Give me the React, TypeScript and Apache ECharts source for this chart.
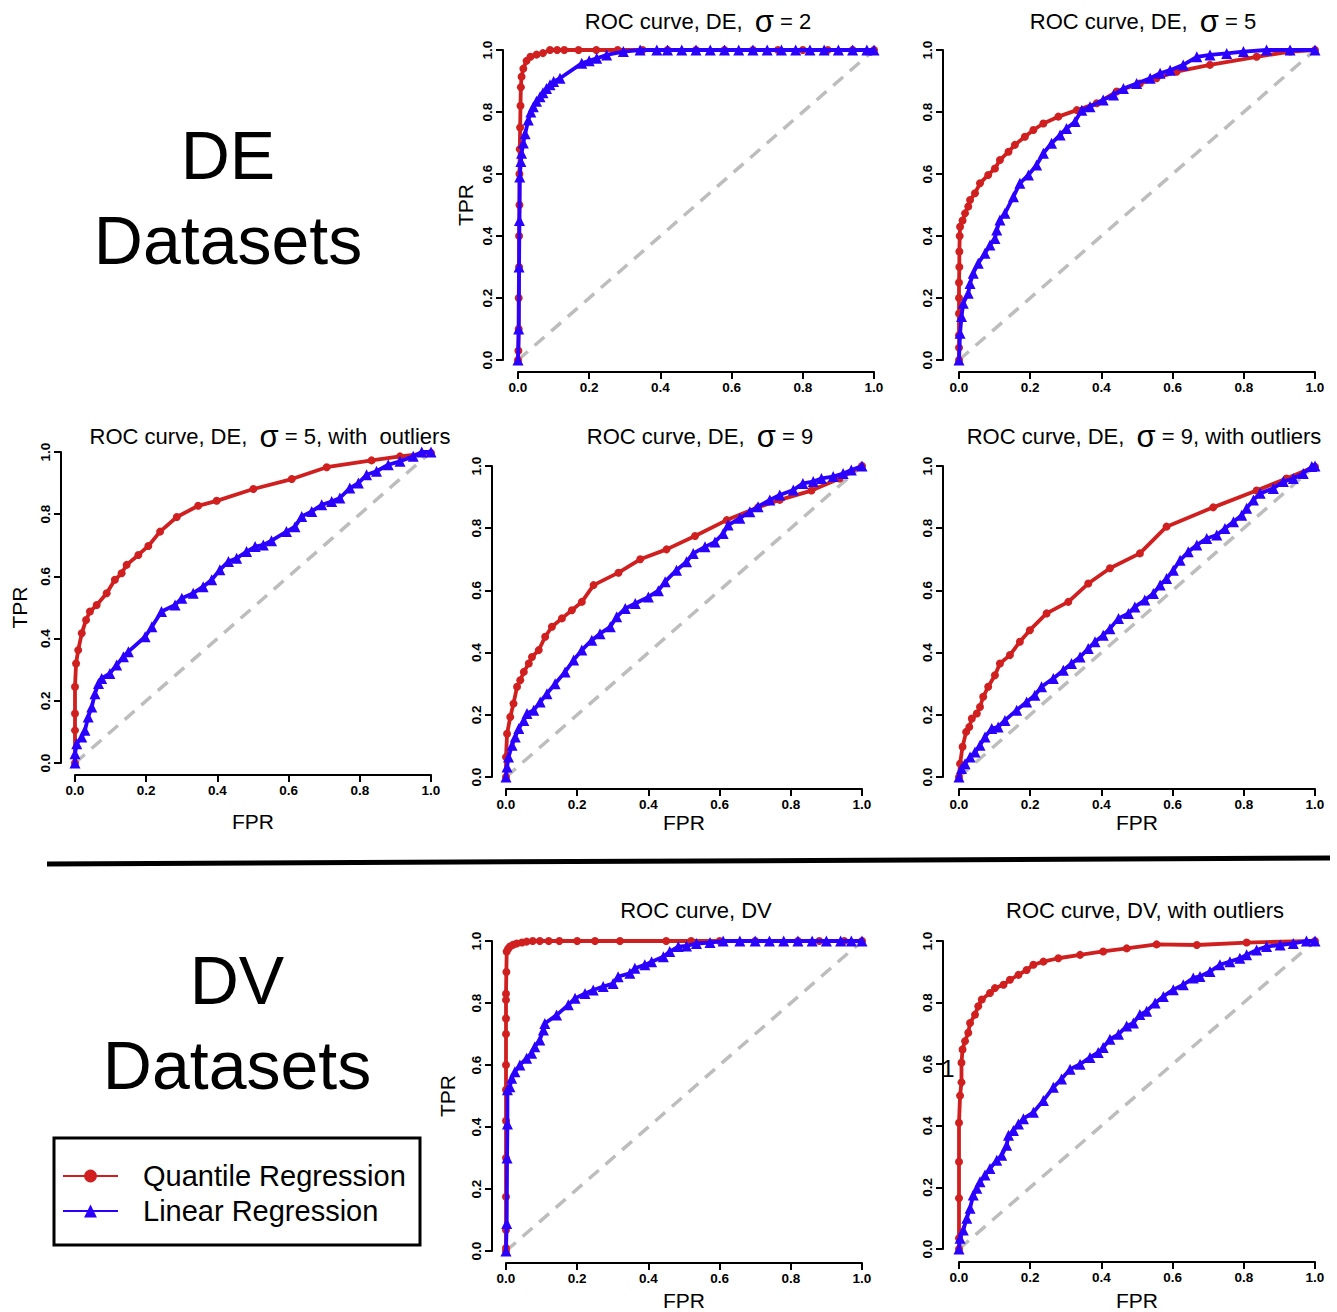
import React, { useEffect, useRef } from "react";
import * as echarts from "echarts";

const FONT = '"Liberation Sans", Arial, Helvetica, sans-serif';
const RED = "#D01F1F";
const BLUE = "#2A00FF";
const GREY = "#BDBDBD";

const seriesNames = ["Quantile Regression", "Linear Regression"];
const tickLabels = ["0.0", "0.2", "0.4", "0.6", "0.8", "1.0"];
const panelTitles = [
  "ROC curve, DE,  σ = 2",
  "ROC curve, DE,  σ = 5",
  "ROC curve, DE,  σ = 5, with  outliers",
  "ROC curve, DE,  σ = 9",
  "ROC curve, DE,  σ = 9, with outliers",
  "ROC curve, DV",
  "ROC curve, DV, with outliers",
];
const blockLabels = [["DE", "Datasets"], ["DV", "Datasets"]];

// ---- data: [FPR, TPR] ----
const deS2Quantile: [number, number][] = [
  [0, 0], [0.001, 0.03], [0.002, 0.1], [0.002, 0.2], [0.003, 0.3], [0.003, 0.4], [0.004, 0.5], [0.004, 0.6],
  [0.005, 0.68], [0.006, 0.75], [0.007, 0.82], [0.008, 0.88], [0.01, 0.914], [0.015, 0.94], [0.024, 0.965],
  [0.035, 0.978], [0.052, 0.985], [0.07, 0.99], [0.09, 1.0], [0.11, 1.0], [0.13, 1.0], [0.17, 1.0], [0.22, 1.0],
  [0.28, 1.0], [0.35, 1.0], [0.42, 1.0], [0.5, 1.0], [0.58, 1.0], [0.66, 1.0], [0.73, 1.0], [0.8, 1.0],
  [0.87, 1.0], [0.94, 1.0], [1, 1],
];
const deS2Linear: [number, number][] = [
  [0, 0], [0.002, 0.1], [0.003, 0.3], [0.004, 0.45], [0.005, 0.59], [0.008, 0.64], [0.01, 0.667], [0.015, 0.7],
  [0.02, 0.73], [0.029, 0.774], [0.036, 0.8], [0.043, 0.817], [0.052, 0.835], [0.062, 0.849], [0.07, 0.862],
  [0.08, 0.876], [0.09, 0.888], [0.1, 0.898], [0.118, 0.909], [0.179, 0.957], [0.2, 0.965], [0.221, 0.973],
  [0.249, 0.984], [0.296, 0.995], [0.343, 1.0], [0.39, 1.0], [0.42, 1], [0.46, 1], [0.5, 1], [0.54, 1], [0.58, 1],
  [0.62, 1], [0.66, 1], [0.7, 1], [0.74, 1], [0.78, 1], [0.82, 1], [0.86, 1], [0.9, 1], [0.94, 1], [0.98, 1], [1, 1],
];
const deS5Quantile: [number, number][] = [
  [0, 0], [0, 0.04], [0, 0.08], [0, 0.15], [0, 0.2], [0, 0.25], [0.001, 0.3], [0.001, 0.35], [0.002, 0.4],
  [0.003, 0.43], [0.01, 0.45], [0.017, 0.473], [0.026, 0.495], [0.031, 0.516], [0.045, 0.538], [0.059, 0.57],
  [0.082, 0.597], [0.101, 0.618], [0.115, 0.645], [0.139, 0.672], [0.157, 0.694], [0.185, 0.72], [0.209, 0.742],
  [0.237, 0.763], [0.279, 0.785], [0.331, 0.806], [0.387, 0.828], [0.443, 0.866], [0.508, 0.892], [0.555, 0.909],
  [0.611, 0.93], [0.705, 0.952], [0.836, 0.978], [0.93, 0.995], [1, 1],
];
const deS5Linear: [number, number][] = [
  [0, 0], [0.003, 0.086], [0.007, 0.14], [0.012, 0.183], [0.026, 0.215], [0.031, 0.247], [0.04, 0.28],
  [0.054, 0.312], [0.073, 0.344], [0.087, 0.371], [0.101, 0.392], [0.106, 0.419], [0.115, 0.452], [0.129, 0.473],
  [0.153, 0.527], [0.171, 0.57], [0.195, 0.597], [0.218, 0.629], [0.237, 0.667], [0.26, 0.699], [0.284, 0.726],
  [0.302, 0.747], [0.326, 0.769], [0.345, 0.806], [0.368, 0.817], [0.405, 0.839], [0.434, 0.855], [0.462, 0.876],
  [0.499, 0.892], [0.537, 0.909], [0.565, 0.925], [0.593, 0.935], [0.63, 0.952], [0.668, 0.978], [0.705, 0.984],
  [0.752, 0.989], [0.799, 0.995], [0.864, 1.0], [0.93, 1.0], [1, 1],
];
const deS5OutQuantile: [number, number][] = [
  [0, 0], [0, 0.105], [0, 0.159], [0, 0.245], [0.003, 0.32], [0.009, 0.363], [0.019, 0.417], [0.031, 0.46],
  [0.042, 0.487], [0.061, 0.508], [0.089, 0.546], [0.112, 0.589], [0.131, 0.61], [0.145, 0.637], [0.178, 0.669],
  [0.206, 0.698], [0.239, 0.744], [0.286, 0.791], [0.346, 0.827], [0.398, 0.843], [0.501, 0.881], [0.609, 0.913],
  [0.707, 0.951], [0.833, 0.973], [0.913, 0.986], [1, 0.997],
];
const deS5OutLinear: [number, number][] = [
  [0, 0], [0, 0.03], [0.005, 0.062], [0.019, 0.084], [0.028, 0.105], [0.037, 0.148], [0.047, 0.18], [0.056, 0.223],
  [0.066, 0.256], [0.075, 0.272], [0.098, 0.288], [0.117, 0.315], [0.136, 0.342], [0.15, 0.358], [0.197, 0.406],
  [0.216, 0.438], [0.243, 0.487], [0.281, 0.508], [0.3, 0.53], [0.332, 0.546], [0.36, 0.567], [0.384, 0.589],
  [0.407, 0.621], [0.431, 0.648], [0.454, 0.658], [0.482, 0.68], [0.506, 0.696], [0.529, 0.701], [0.552, 0.715],
  [0.594, 0.744], [0.618, 0.76], [0.637, 0.793], [0.665, 0.809], [0.693, 0.83], [0.721, 0.841], [0.744, 0.852],
  [0.772, 0.884], [0.796, 0.9], [0.819, 0.927], [0.847, 0.938], [0.88, 0.959], [0.913, 0.97], [0.95, 0.986],
  [0.974, 1.0], [1, 1],
];
const deS9Quantile: [number, number][] = [
  [0, 0], [0, 0.064], [0.003, 0.139], [0.012, 0.193], [0.021, 0.236], [0.031, 0.29], [0.04, 0.311], [0.05, 0.338],
  [0.064, 0.365], [0.073, 0.386], [0.092, 0.408], [0.11, 0.451], [0.129, 0.483], [0.157, 0.51], [0.185, 0.536],
  [0.213, 0.563], [0.246, 0.617], [0.316, 0.657], [0.377, 0.7], [0.451, 0.732], [0.531, 0.775], [0.62, 0.826],
  [0.708, 0.867], [0.769, 0.891], [0.858, 0.921], [0.937, 0.96], [1, 1],
];
const deS9Linear: [number, number][] = [
  [0, 0], [0.003, 0.032], [0.007, 0.064], [0.017, 0.102], [0.026, 0.129], [0.036, 0.156], [0.05, 0.182],
  [0.059, 0.204], [0.078, 0.215], [0.096, 0.241], [0.115, 0.268], [0.138, 0.3], [0.166, 0.338], [0.19, 0.376],
  [0.213, 0.408], [0.241, 0.44], [0.264, 0.461], [0.293, 0.483], [0.311, 0.515], [0.335, 0.542], [0.363, 0.558],
  [0.4, 0.579], [0.428, 0.599], [0.447, 0.628], [0.479, 0.665], [0.507, 0.692], [0.526, 0.719], [0.559, 0.74],
  [0.587, 0.756], [0.61, 0.783], [0.624, 0.81], [0.657, 0.832], [0.685, 0.853], [0.708, 0.869], [0.741, 0.891],
  [0.769, 0.907], [0.807, 0.923], [0.834, 0.944], [0.863, 0.95], [0.886, 0.96], [0.919, 0.966], [0.947, 0.976],
  [0.97, 0.987], [1, 1],
];
const deS9OutQuantile: [number, number][] = [
  [0, 0], [0.003, 0.043], [0.01, 0.097], [0.02, 0.145], [0.029, 0.161], [0.036, 0.188], [0.05, 0.204],
  [0.059, 0.225], [0.068, 0.258], [0.082, 0.29], [0.101, 0.327], [0.115, 0.365], [0.143, 0.392], [0.171, 0.435],
  [0.199, 0.472], [0.246, 0.526], [0.307, 0.563], [0.363, 0.622], [0.424, 0.671], [0.508, 0.719], [0.583, 0.805],
  [0.714, 0.867], [0.836, 0.921], [0.92, 0.96], [1, 0.998],
];
const deS9OutLinear: [number, number][] = [
  [0, 0], [0.007, 0.027], [0.017, 0.043], [0.031, 0.064], [0.045, 0.08], [0.059, 0.102], [0.073, 0.129],
  [0.092, 0.156], [0.11, 0.161], [0.129, 0.182], [0.162, 0.215], [0.19, 0.241], [0.213, 0.263], [0.232, 0.29],
  [0.265, 0.317], [0.293, 0.343], [0.316, 0.365], [0.34, 0.386], [0.363, 0.413], [0.382, 0.435], [0.405, 0.456],
  [0.424, 0.477], [0.448, 0.51], [0.476, 0.526], [0.494, 0.547], [0.522, 0.569], [0.546, 0.59], [0.565, 0.617],
  [0.583, 0.638], [0.602, 0.665], [0.621, 0.697], [0.644, 0.724], [0.668, 0.746], [0.696, 0.767], [0.724, 0.778],
  [0.747, 0.799], [0.771, 0.821], [0.794, 0.842], [0.808, 0.864], [0.827, 0.891], [0.846, 0.912], [0.883, 0.928],
  [0.911, 0.95], [0.939, 0.96], [0.967, 0.976], [0.991, 0.998], [1, 1],
];
const dvQuantile: [number, number][] = [
  [0, 0], [0, 0.01], [0, 0.068], [0, 0.175], [0, 0.3], [0, 0.42], [0, 0.52], [0, 0.6], [0, 0.7], [0, 0.75],
  [0, 0.81], [0, 0.83], [0.001, 0.9], [0.002, 0.966], [0.006, 0.975], [0.011, 0.982], [0.02, 0.988], [0.03, 0.992],
  [0.045, 0.995], [0.058, 0.998], [0.075, 1], [0.095, 1], [0.12, 1], [0.15, 1], [0.2, 1], [0.25, 1], [0.32, 1],
  [0.45, 1], [0.52, 1], [0.6, 1], [0.7, 1], [0.82, 1], [0.88, 1], [0.95, 1], [1, 1],
];
const dvLinear: [number, number][] = [
  [0, 0], [0.002, 0.089], [0.003, 0.3], [0.004, 0.41], [0.004, 0.52], [0.011, 0.53], [0.016, 0.557], [0.025, 0.578],
  [0.039, 0.6], [0.058, 0.622], [0.072, 0.638], [0.081, 0.659], [0.095, 0.681], [0.105, 0.713], [0.109, 0.734],
  [0.142, 0.761], [0.175, 0.794], [0.194, 0.815], [0.222, 0.831], [0.245, 0.842], [0.273, 0.853], [0.301, 0.863],
  [0.315, 0.885], [0.348, 0.896], [0.362, 0.912], [0.39, 0.923], [0.409, 0.933], [0.442, 0.949], [0.46, 0.966],
  [0.484, 0.982], [0.507, 0.984], [0.535, 0.992], [0.573, 0.995], [0.61, 1.0], [0.657, 1], [0.7, 1], [0.74, 1],
  [0.78, 1], [0.82, 1], [0.86, 1], [0.9, 1], [0.94, 1], [0.97, 1], [1, 1],
];
const dvOutQuantile: [number, number][] = [
  [0, 0], [0, 0.035], [0, 0.165], [0, 0.283], [0, 0.41], [0.003, 0.498], [0.007, 0.541], [0.007, 0.605],
  [0.01, 0.648], [0.017, 0.675], [0.026, 0.702], [0.031, 0.734], [0.045, 0.761], [0.054, 0.788], [0.064, 0.81],
  [0.087, 0.831], [0.101, 0.847], [0.125, 0.858], [0.143, 0.874], [0.167, 0.89], [0.19, 0.906], [0.209, 0.923],
  [0.237, 0.933], [0.279, 0.944], [0.34, 0.955], [0.405, 0.966], [0.471, 0.976], [0.555, 0.989], [0.668, 0.987],
  [0.808, 0.995], [1, 1],
];
const dvOutLinear: [number, number][] = [
  [0, 0], [0.003, 0.035], [0.012, 0.062], [0.022, 0.1], [0.031, 0.132], [0.04, 0.175], [0.05, 0.197],
  [0.059, 0.218], [0.073, 0.24], [0.087, 0.261], [0.106, 0.288], [0.12, 0.304], [0.134, 0.337], [0.139, 0.369],
  [0.153, 0.385], [0.167, 0.406], [0.181, 0.423], [0.209, 0.444], [0.237, 0.482], [0.265, 0.525], [0.288, 0.552],
  [0.312, 0.584], [0.34, 0.6], [0.368, 0.622], [0.391, 0.638], [0.405, 0.654], [0.424, 0.681], [0.448, 0.697],
  [0.471, 0.724], [0.49, 0.734], [0.508, 0.761], [0.527, 0.772], [0.551, 0.799], [0.574, 0.82], [0.602, 0.842],
  [0.63, 0.858], [0.658, 0.88], [0.677, 0.885], [0.705, 0.901], [0.733, 0.923], [0.761, 0.933], [0.789, 0.944],
  [0.808, 0.955], [0.836, 0.971], [0.864, 0.982], [0.902, 0.987], [0.939, 0.992], [0.976, 1.0], [1, 1],
];
const diagonal: [number, number][] = [[0, 0], [1, 1]];

const panelData = [
  [deS2Quantile, deS2Linear],
  [deS5Quantile, deS5Linear],
  [deS5OutQuantile, deS5OutLinear],
  [deS9Quantile, deS9Linear],
  [deS9OutQuantile, deS9OutLinear],
  [dvQuantile, dvLinear],
  [dvOutQuantile, dvOutLinear],
];

// ---- layout (pixels) ----
const layouts = [
  { left: 518, top: 50, w: 356, h: 310, xOff: 12, yOff: 15, xMargin: 8, tx: 698, ty: 21, xName: "", xGap: 0, yName: "TPR", yGap: 27 },
  { left: 959, top: 50, w: 356, h: 310, xOff: 12, yOff: 16, xMargin: 8, tx: 1143, ty: 21, xName: "", xGap: 0, yName: "", yGap: 0 },
  { left: 75, top: 452, w: 356, h: 311, xOff: 12, yOff: 14, xMargin: 8, tx: 270, ty: 436, xName: "FPR", xGap: 36, yName: "TPR", yGap: 31 },
  { left: 506, top: 466, w: 356, h: 311, xOff: 12, yOff: 14, xMargin: 8, tx: 700, ty: 436, xName: "FPR", xGap: 23, yName: "", yGap: 0 },
  { left: 959, top: 466, w: 356, h: 311, xOff: 12, yOff: 16, xMargin: 8, tx: 1144, ty: 436, xName: "FPR", xGap: 23, yName: "", yGap: 0 },
  { left: 506, top: 941, w: 356, h: 310, xOff: 12, yOff: 14, xMargin: 8, tx: 696, ty: 910, xName: "FPR", xGap: 27, yName: "TPR", yGap: 34 },
  { left: 959, top: 941, w: 356, h: 310, xOff: 13, yOff: 16, xMargin: 8, tx: 1145, ty: 910, xName: "FPR", xGap: 28, yName: "", yGap: 0 },
];

function buildOption() {
  const grid: any[] = [];
  const xAxis: any[] = [];
  const yAxis: any[] = [];
  const series: any[] = [];
  const graphic: any[] = [];
  const axisLine = { show: true, onZero: false, lineStyle: { color: "#000", width: 2 } };
  const axisTick = { show: true, length: 7, lineStyle: { color: "#000", width: 2 } };
  const fmt = (v: number) => tickLabels[Math.round(v * 5)] ?? v.toFixed(1);
  const tickFont = { fontSize: 13.5, fontWeight: "bold", color: "#000", fontFamily: FONT };

  layouts.forEach((L, i) => {
    grid.push({ left: L.left, top: L.top, width: L.w, height: L.h, containLabel: false });
    xAxis.push({
      gridIndex: i, type: "value", min: 0, max: 1, interval: 0.2, offset: L.xOff,
      axisLine, axisTick, splitLine: { show: false },
      axisLabel: { margin: L.xMargin, formatter: fmt, ...tickFont },
      name: L.xName, nameLocation: "middle", nameGap: L.xGap,
      nameTextStyle: { fontSize: 21, color: "#000", fontFamily: FONT },
    });
    yAxis.push({
      gridIndex: i, type: "value", min: 0, max: 1, interval: 0.2, offset: L.yOff,
      axisLine, axisTick, splitLine: { show: false },
      axisLabel: { margin: 9, rotate: 90, formatter: fmt, ...tickFont },
      name: L.yName, nameLocation: "middle", nameGap: L.yGap,
      nameTextStyle: { fontSize: 21, color: "#000", fontFamily: FONT },
    });
    series.push({
      name: "chance", type: "line", xAxisIndex: i, yAxisIndex: i, data: diagonal, symbol: "none",
      lineStyle: { color: GREY, width: 3.5, type: [13, 9] }, z: 1, silent: true,
    });
    const [q, l] = panelData[i];
    series.push({
      name: seriesNames[0], type: "line", xAxisIndex: i, yAxisIndex: i, data: q, clip: false,
      symbol: "circle", symbolSize: 8, showAllSymbol: true,
      lineStyle: { color: RED, width: 3.8 }, itemStyle: { color: RED }, z: 3,
    });
    series.push({
      name: seriesNames[1], type: "line", xAxisIndex: i, yAxisIndex: i, data: l, clip: false,
      symbol: "triangle", symbolSize: 11, showAllSymbol: true,
      lineStyle: { color: BLUE, width: 3.8 }, itemStyle: { color: BLUE }, z: 4,
    });
    graphic.push({
      type: "text", x: L.tx, y: L.ty, z: 10,
      style: {
        text: panelTitles[i].replace("σ", "{s|σ}"),
        rich: { s: { fontSize: 31, fontFamily: FONT, fill: "#000" } },
        fontSize: 22, fontFamily: FONT, fill: "#000", align: "center", verticalAlign: "middle",
      },
    });
  });

  const bigStyle = { fontSize: 68, fontFamily: FONT, fill: "#000", align: "center", verticalAlign: "middle" };
  graphic.push({ type: "text", x: 228, y: 155, style: { ...bigStyle, text: blockLabels[0][0] } });
  graphic.push({ type: "text", x: 228, y: 240, style: { ...bigStyle, text: blockLabels[0][1] } });
  graphic.push({ type: "text", x: 237, y: 980, style: { ...bigStyle, text: blockLabels[1][0] } });
  graphic.push({ type: "text", x: 237, y: 1065, style: { ...bigStyle, text: blockLabels[1][1] } });
  graphic.push({ type: "line", shape: { x1: 47, y1: 864, x2: 1330, y2: 858 }, style: { stroke: "#000", lineWidth: 5 } });
  graphic.push({ type: "rect", shape: { x: 54, y: 1138, width: 366, height: 107 }, style: { stroke: "#000", lineWidth: 3, fill: "none" } });
  graphic.push({ type: "text", x: 948, y: 1068, style: { text: "1", fontSize: 24, fontFamily: FONT, fill: "#000", align: "center", verticalAlign: "middle" } });

  return {
    animation: false,
    backgroundColor: "#fff",
    grid, xAxis, yAxis, series, graphic,
    legend: {
      data: seriesNames, orient: "vertical", left: 57, top: 1155, padding: 5,
      itemWidth: 55, itemHeight: 16, itemGap: 3, selectedMode: false,
      textStyle: { fontSize: 29, fontFamily: FONT, color: "#000", lineHeight: 32, padding: [0, 0, 0, 20] },
    },
  };
}

export default function App() {
  const ref = useRef<HTMLDivElement>(null);
  useEffect(() => {
    const chart = echarts.init(ref.current!, null, { renderer: "svg" });
    chart.setOption(buildOption() as any);
    return () => chart.dispose();
  }, []);
  return (
    <div
      ref={ref}
      style={{ position: "absolute", left: 0, top: 0, width: 1337, height: 1312, background: "#fff" }}
    />
  );
}
